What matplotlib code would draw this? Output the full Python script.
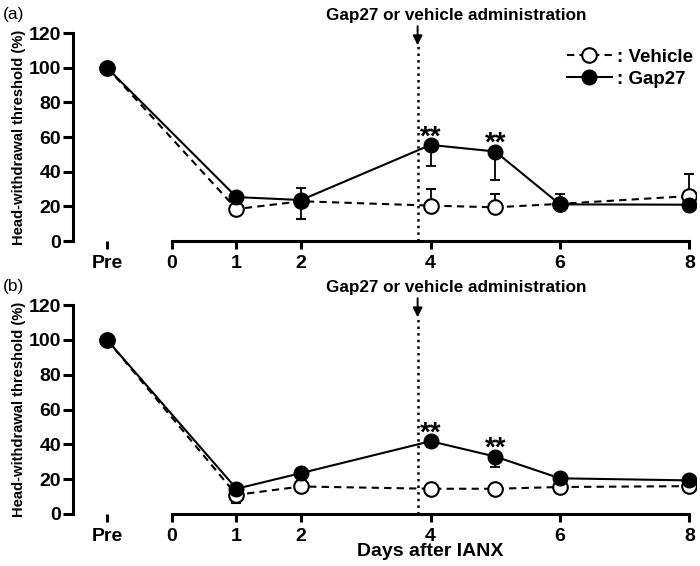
import numpy as np
import matplotlib
matplotlib.use("Agg")
import matplotlib.pyplot as plt
from matplotlib.lines import Line2D

plt.rcParams['font.family'] = ['Liberation Sans', 'DejaVu Sans']

# days after IANX (Pre drawn at -1)
days = [-1, 1, 2, 4, 5, 6, 8]
tick_pos = [-1, 0, 1, 2, 4, 6, 8]
tick_lab = ['Pre', '0', '1', '2', '4', '6', '8']

# panel (a)
veh_a = [100, 18.5, 23, 20.5, 19.5, 21.5, 26]
veh_a_lo = [0, 0, 10, 0, 0, 0, 0]
veh_a_hi = [0, 0, 0, 9.5, 7.5, 0, 13]
gap_a = [100, 25.4, 23.7, 55.5, 51.7, 21.2, 21]
gap_a_lo = [0, 0, 0, 12, 16.3, 0, 0]
gap_a_hi = [0, 0, 6.8, 0, 0, 6, 0]

# panel (b)
veh_b = [100, 11, 15.8, 14.5, 14.5, 15.5, 16]
veh_b_lo = [0, 4.5, 0, 0, 0, 2, 0]
veh_b_hi = [0, 0, 0, 0, 0, 2, 0]
gap_b = [100, 14.5, 23.5, 41.8, 33, 20.5, 19.3]
gap_b_lo = [0, 0, 0, 3.5, 6, 0, 0]
gap_b_hi = [0, 0, 0, 0, 0, 0, 0]

sig_days = [4, 5]
admin_day = 3.8

fig = plt.figure(figsize=(7, 5.66), dpi=100)
ax_a = fig.add_axes([0.104, 0.574, 0.890, 0.3675])
ax_b = fig.add_axes([0.104, 0.0919, 0.890, 0.369])

panels = [
    (ax_a, veh_a, veh_a_lo, veh_a_hi, gap_a, gap_a_lo, gap_a_hi, '(a)'),
    (ax_b, veh_b, veh_b_lo, veh_b_hi, gap_b, gap_b_lo, gap_b_hi, '(b)'),
]

for ax, veh, vlo, vhi, gap, glo, ghi, tag in panels:
    ax.errorbar(days, veh, yerr=[vlo, vhi], fmt='o', ls=(0, (3.5, 2.5)), lw=1.5,
                color='black', mfc='white', mec='black', mew=1.5, ms=10.5,
                ecolor='black', elinewidth=1.3, capsize=3.5, capthick=1.3, zorder=3)
    ax.errorbar(days, gap, yerr=[glo, ghi], fmt='o', ls='-', lw=1.5,
                color='black', mfc='black', mec='black', ms=10.5,
                ecolor='black', elinewidth=1.3, capsize=3.5, capthick=1.3, zorder=4)

    for d in sig_days:
        v = gap[days.index(d)]
        ax.annotate('**', (d, v), xytext=(0, -4), textcoords='offset points',
                    ha='center', va='bottom', fontsize=20, fontweight='bold')

    ax.plot([admin_day, admin_day], [0, 113], ls=':', lw=1.8, color='black',
            clip_on=False, zorder=2)
    ax.annotate('', xy=(admin_day, 113), xytext=(admin_day, 124),
                arrowprops=dict(arrowstyle='-|>', color='black', lw=1.4,
                                mutation_scale=14, shrinkA=0, shrinkB=0),
                annotation_clip=False)
    ax.text(admin_day + 0.6, 126, 'Gap27 or vehicle administration', ha='center',
            va='bottom', fontsize=12.3, fontweight='bold')

    ax.set_xlim(-1.53, 8.1)
    ax.set_ylim(0, 120)
    ax.set_yticks(range(0, 121, 20))
    ax.set_xticks(tick_pos)
    ax.set_xticklabels(tick_lab)
    ax.spines['top'].set_visible(False)
    ax.spines['right'].set_visible(False)
    ax.spines['left'].set_linewidth(2.2)
    ax.spines['bottom'].set_linewidth(2.2)
    ax.spines['bottom'].set_bounds(0, 8)
    ax.tick_params(axis='both', width=2.2, length=7, labelsize=14, pad=1.5)
    ax.tick_params(axis='x', length=6, pad=4)
    for lab in ax.get_xticklabels() + ax.get_yticklabels():
        lab.set_fontweight('bold')
    ax.set_ylabel('Head-withdrawal threshold (%)', fontsize=10.6, fontweight='bold',
                  labelpad=2)
    ax.patch.set_visible(False)
    ax.text(-0.113, 1.09, tag, transform=ax.transAxes, fontsize=12.5, ha='left',
            va='center')

handles = [
    Line2D([], [], ls=(0, (3.5, 2.5)), lw=1.5, color='black', marker='o',
           mfc='white', mec='black', mew=1.5, ms=10.5),
    Line2D([], [], ls='-', lw=1.5, color='black', marker='o', mfc='black', ms=10.5),
]
ax_a.legend(handles, [': Vehicle', ': Gap27'], loc='upper right',
            bbox_to_anchor=(1.01, 0.97), frameon=False, handlelength=2.4,
            handletextpad=0.25, labelspacing=0.25, borderpad=0,
            prop={'size': 13.5, 'weight': 'bold'})

ax_b.set_xlabel('Days after IANX', fontsize=14, fontweight='bold')
ax_b.xaxis.set_label_coords((4 + 1.53) / 9.63, -0.182)
ax_b.xaxis.label.set_va('center')

fig.savefig('out.png', dpi=100)
